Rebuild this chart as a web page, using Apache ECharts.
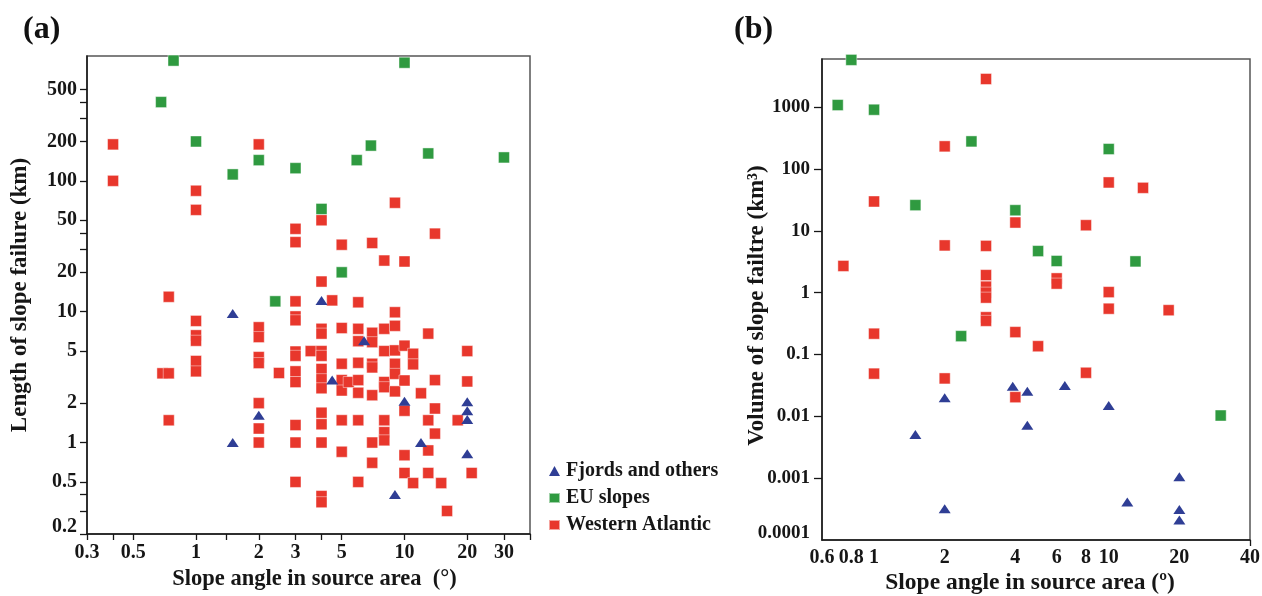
<!DOCTYPE html>
<html>
<head>
<meta charset="utf-8">
<script src="https://cdn.jsdelivr.net/npm/echarts@6/dist/echarts.min.js"></script>
<style>
html, body { margin: 0; padding: 0; background: #fff; }
#chart { width: 1262px; height: 596px; }
</style>
</head>
<body>
<div id="chart"></div>
<script>
// (a) Slope angle (°) vs. length of slope failure (km)
const lengthFjords = [[1.5,9.7],[1.5,1.0],[2,1.62],[4,12.2],[4.5,3.0],[6.4,6.0],[9,0.40],[10,2.07],[12,1.0],[20,2.05],[20,1.75],[20,1.5],[20,0.82]];
const lengthEU = [[0.68,400],[0.78,830],[1,200],[1.5,112],[2,144],[2.4,12],[3,125],[4,61],[5,20],[5.9,144],[6.9,186],[10,800],[13,162],[30,151]];
const lengthWA = [
  [0.4,190],[0.4,100],
  [0.69,3.38],[0.74,3.38],[0.74,13],[0.74,1.48],
  [1,84],[1,60],[1,8.5],[1,6.6],[1,6.0],[1,4.2],[1,3.5],
  [2,190],[2,7.6],[2,6.4],[2,4.5],[2,4.05],[2,2.0],[2,1.28],[2,1.0],
  [2.5,3.4],
  [3,43],[3,34],[3,12],[3,9.2],[3,8.6],[3,4.96],[3,4.6],[3,3.5],[3,2.9],[3,1.36],[3,1.0],[3,0.5],
  [3.55,5.0],
  [4,50],[4,17],[4,7.4],[4,6.8],[4,5.0],[4,4.6],[4,3.65],[4,3.05],[4,2.6],[4,1.69],[4,1.38],[4,1.0],[4,0.39],[4,0.35],
  [4.5,12.2],
  [5,32.5],[5,7.5],[5,4.0],[5,3.0],[5,2.5],[5,1.48],[5,0.85],
  [5.4,2.9],
  [6,11.8],[6,7.4],[6,5.95],[6,4.07],[6,3.0],[6,2.4],[6,1.48],[6,0.5],
  [7,33.5],[7,6.9],[7,5.85],[7,4.0],[7,3.75],[7,2.3],[7,1.0],[7,0.7],
  [8,24.6],[8,7.4],[8,5.0],[8,2.9],[8,2.65],[8,1.48],[8,1.2],[8,1.04],
  [9,68],[9,9.9],[9,7.8],[9,5.06],[9,4.0],[9,3.35],[9,2.46],
  [10,24.2],[10,5.5],[10,2.98],[10,1.75],[10,0.8],[10,0.585],
  [11,4.77],[11,3.96],[11,0.49],
  [12,2.38],
  [13,6.8],[13,1.48],[13,0.87],[13,0.585],
  [14,39.5],[14,3.0],[14,1.82],[14,1.17],
  [15,0.49],[16,0.30],[18,1.48],
  [20,5.0],[20,2.93],[21,0.585]
];

// (b) Slope angle (°) vs. volume of slope failure (km³)
const volumeFjords = [[1.5,0.0051],[2,0.02],[2,0.00032],[3.9,0.0307],[4.5,0.0255],[4.5,0.00716],[6.5,0.0315],[10,0.0149],[12,0.00041],[20,0.00105],[20,0.00031],[20,0.00021]];
const volumeEU = [[0.7,1080],[0.8,5800],[1,908],[1.5,26],[2.35,0.198],[2.6,279],[4,21.5],[5,4.7],[6,3.25],[10,210],[13,3.2],[30,0.0103]];
const volumeWA = [[0.74,2.7],[1,29.8],[1,0.217],[1,0.049],[2,232],[2,5.8],[2,0.041],[3,2850],[3,5.7],[3,1.92],[3,1.25],[3,1.0],[3,0.83],[3,0.4],[3,0.35],[4,13.6],[4,0.23],[4,0.0204],[5,0.136],[6,1.7],[6,1.4],[8,12.3],[8,0.0506],[10,60.5],[10,1.02],[10,0.55],[14,49.5],[18,0.52]];

// Tick labels and tick marks
const angleLabelsA = [0.3,0.5,1,2,3,5,10,20,30];
const angleTicksA = [0.3,0.4,0.5,1,1.4,2,3,4,5,10,20,30,40];
const lengthLabels = [0.2,0.5,1,2,5,10,20,50,100,200,500];
const lengthTicks = [0.2,0.3,0.4,0.5,1,2,5,10,20,30,40,50,100,200,300,400,500];
const angleLabelsB = [0.6,0.8,1,2,4,6,8,10,20,40];
const angleTicksB = [40];
const volumeLabels = [0.0001,0.001,0.01,0.1,1,10,100,1000];
const volumeTicks = [0.001,0.01,0.1,1,10,100,1000];

const seriesNames = ['Fjords and others', 'EU slopes', 'Western Atlantic'];
const FONT = "'Liberation Serif', 'Times New Roman', serif";
const INK = '#161616';
const COLORS = { fjords: '#2f3e95', eu: '#2f9a40', wa: '#e8372c' };

const fmt = v => String(+(+v).toPrecision(6));

function logAxis(opts) {
  const label = {
    customValues: opts.labels,
    formatter: fmt,
    margin: opts.margin,
    fontFamily: FONT, fontWeight: 'bold', fontSize: opts.labelSize, color: INK
  };
  if (opts.vertical) {
    // nudge digits so their visual centre sits on the tick
    label.lineHeight = 14;
    label.padding = [8, 0, 0, 0];
    label.verticalAlignMinLabel = 'bottom';
  }
  return {
    type: 'log',
    logBase: 10,
    gridIndex: opts.grid,
    min: opts.min,
    max: opts.max,
    name: opts.name,
    nameLocation: 'middle',
    nameGap: opts.nameGap,
    nameMoveOverlap: false,
    nameTextStyle: { fontFamily: FONT, fontWeight: 'bold', fontSize: opts.nameSize, color: INK, padding: opts.namePad || 0 },
    axisLine: { show: true, onZero: false, lineStyle: { color: INK, width: 1.5 } },
    axisTick: { show: true, inside: false, length: opts.tickLen, customValues: opts.ticks, lineStyle: { color: INK, width: 1.3 } },
    axisLabel: label,
    splitLine: { show: false },
    minorTick: { show: false }
  };
}

function scatter(name, data, idx, color, symbol, size, z) {
  return {
    name, type: 'scatter', data,
    xAxisIndex: idx, yAxisIndex: idx,
    symbol, symbolSize: size, z,
    itemStyle: { color, opacity: 1, borderColor: 'rgba(255,255,255,0.55)', borderWidth: symbol === 'rect' ? 0.8 : 0 },
    emphasis: { disabled: true }
  };
}

const chart = echarts.init(document.getElementById('chart'), null, { renderer: 'canvas' });

chart.setOption({
  backgroundColor: '#fff',
  animation: false,
  title: [
    { text: '(a)', left: 18, top: 9, textStyle: { fontFamily: FONT, fontWeight: 'bold', fontSize: 32, color: '#111' } },
    { text: '(b)', left: 729, top: 9, textStyle: { fontFamily: FONT, fontWeight: 'bold', fontSize: 32, color: '#111' } }
  ],
  legend: {
    orient: 'vertical',
    left: 543, top: 456,
    itemWidth: 11, itemHeight: 10, itemGap: 7,
    selectedMode: false,
    textStyle: { fontFamily: FONT, fontWeight: 'bold', fontSize: 20, color: INK, padding: [0, 0, 0, 1] },
    data: [
      { name: seriesNames[0], icon: 'triangle', itemStyle: { color: COLORS.fjords } },
      { name: seriesNames[1], icon: 'rect', itemStyle: { color: COLORS.eu } },
      { name: seriesNames[2], icon: 'rect', itemStyle: { color: COLORS.wa } }
    ]
  },
  grid: [
    { left: 87, top: 56, width: 443, height: 478, show: true, borderColor: '#555', borderWidth: 1.5, containLabel: false, outerBoundsMode: 'none' },
    { left: 822, top: 59, width: 428, height: 481, show: true, borderColor: '#555', borderWidth: 1.5, containLabel: false, outerBoundsMode: 'none' }
  ],
  xAxis: [
    logAxis({ grid: 0, min: 0.3, max: 40, name: 'Slope angle in source area  (°)', nameGap: 34, nameSize: 22.5, namePad: [0, 0, 0, 12], tickLen: 6, ticks: angleTicksA, labels: angleLabelsA, margin: 9, labelSize: 20 }),
    logAxis({ grid: 1, min: 0.6, max: 40, name: 'Slope angle in source area (º)', nameGap: 31, nameSize: 23.5, namePad: [0, 12, 0, 0], tickLen: 6, ticks: angleTicksB, labels: angleLabelsB, margin: 8, labelSize: 20 })
  ],
  yAxis: [
    logAxis({ grid: 0, min: 0.2, max: 900, name: 'Length of slope failure (km)', nameGap: 55, nameSize: 23, tickLen: 7, ticks: lengthTicks, labels: lengthLabels, margin: 10, labelSize: 20, vertical: true }),
    logAxis({ grid: 1, min: 0.0001, max: 6000, name: 'Volume of slope failtre (km³)', nameGap: 53, nameSize: 23, namePad: [0, 12, 0, 0], tickLen: 8, ticks: volumeTicks, labels: volumeLabels, margin: 12, labelSize: 19, vertical: true })
  ],
  series: [
    scatter(seriesNames[2], lengthWA, 0, COLORS.wa, 'rect', 11, 2),
    scatter(seriesNames[1], lengthEU, 0, COLORS.eu, 'rect', 11, 3),
    scatter(seriesNames[0], lengthFjords, 0, COLORS.fjords, 'triangle', [12, 9], 4),
    scatter(seriesNames[2], volumeWA, 1, COLORS.wa, 'rect', 11, 2),
    scatter(seriesNames[1], volumeEU, 1, COLORS.eu, 'rect', 11, 3),
    scatter(seriesNames[0], volumeFjords, 1, COLORS.fjords, 'triangle', [12, 9], 4)
  ]
});
</script>
</body>
</html>
